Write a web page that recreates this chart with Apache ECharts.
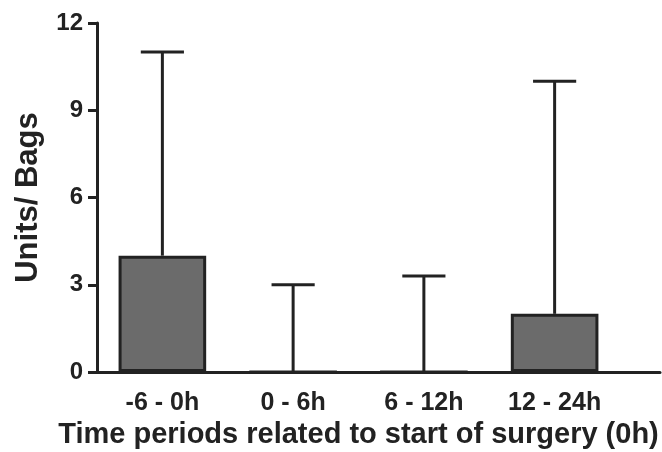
<!DOCTYPE html>
<html>
<head>
<meta charset="utf-8">
<script src="https://cdn.jsdelivr.net/npm/echarts@6/dist/echarts.min.js"></script>
<style>html,body{margin:0;padding:0;background:#fff}#c{width:662px;height:452px}</style>
</head>
<body>
<div id="c"></div>
<script>
const categories = ['-6 - 0h', '0 - 6h', '6 - 12h', '12 - 24h'];
const barValues = [4, 0, 0, 2];
const errorUpper = [11, 3, 3.3, 10];
const yTicks = [0, 3, 6, 9, 12];

const ink = '#222';
const font = 'Liberation Sans, Arial, sans-serif';
const chart = echarts.init(document.getElementById('c'), null, {renderer: 'canvas'});

const gridBase = {top: 23, bottom: 80, containLabel: false, outerBoundsMode: 'none'};

chart.setOption({
  animation: false,
  backgroundColor: '#fff',
  grid: [
    Object.assign({left: 97, right: 42}, gridBase),
    Object.assign({left: 97, right: 2}, gridBase)
  ],
  xAxis: [
    {
      type: 'category', gridIndex: 0, data: categories,
      axisLine: {lineStyle: {color: ink, width: 3}},
      axisTick: {show: false},
      axisLabel: {color: ink, fontSize: 25, fontWeight: 'bold', fontFamily: font, margin: 19},
      name: 'Time periods related to start of surgery (0h)',
      nameLocation: 'middle', nameGap: 47,
      nameTextStyle: {color: ink, fontSize: 29, fontWeight: 'bold', fontFamily: font}
    },
    {
      type: 'value', gridIndex: 1, min: 0, max: 1,
      axisLine: {show: true, lineStyle: {color: ink, width: 3}},
      axisTick: {show: false}, axisLabel: {show: false}, splitLine: {show: false}
    }
  ],
  yAxis: [
    {
      type: 'value', gridIndex: 0, min: yTicks[0], max: yTicks[yTicks.length - 1], interval: 3,
      axisLine: {show: true, lineStyle: {color: ink, width: 3}},
      axisTick: {show: true, length: 9, lineStyle: {color: ink, width: 3}},
      splitLine: {show: false},
      axisLabel: {color: ink, fontSize: 24, fontWeight: 'bold', fontFamily: font, margin: 14},
      name: 'Units/ Bags', nameLocation: 'middle', nameGap: 53, nameRotate: 90,
      nameTextStyle: {color: ink, fontSize: 31, fontWeight: 'bold', fontFamily: font}
    },
    {type: 'value', gridIndex: 1, min: 0, max: 1, show: false}
  ],
  series: [
    {
      type: 'bar', xAxisIndex: 0, yAxisIndex: 0, data: barValues, barWidth: '67%',
      itemStyle: {color: '#6b6b6b', borderColor: ink, borderWidth: 3},
      z: 3
    },
    {
      type: 'custom', xAxisIndex: 0, yAxisIndex: 0,
      data: categories.map((c, i) => [i, barValues[i], errorUpper[i]]),
      renderItem: function (params, api) {
        const i = api.value(0);
        const low = api.coord([i, api.value(1)]);
        const high = api.coord([i, api.value(2)]);
        const half = api.size([1, 0])[0] * 0.165;
        const style = {stroke: ink, lineWidth: 3, fill: null};
        return {
          type: 'group',
          children: [
            {type: 'line', shape: {x1: low[0], y1: low[1], x2: high[0], y2: high[1]}, style: style},
            {type: 'line', shape: {x1: high[0] - half, y1: high[1], x2: high[0] + half, y2: high[1]}, style: style}
          ]
        };
      },
      z: 4
    }
  ]
});
</script>
</body>
</html>
